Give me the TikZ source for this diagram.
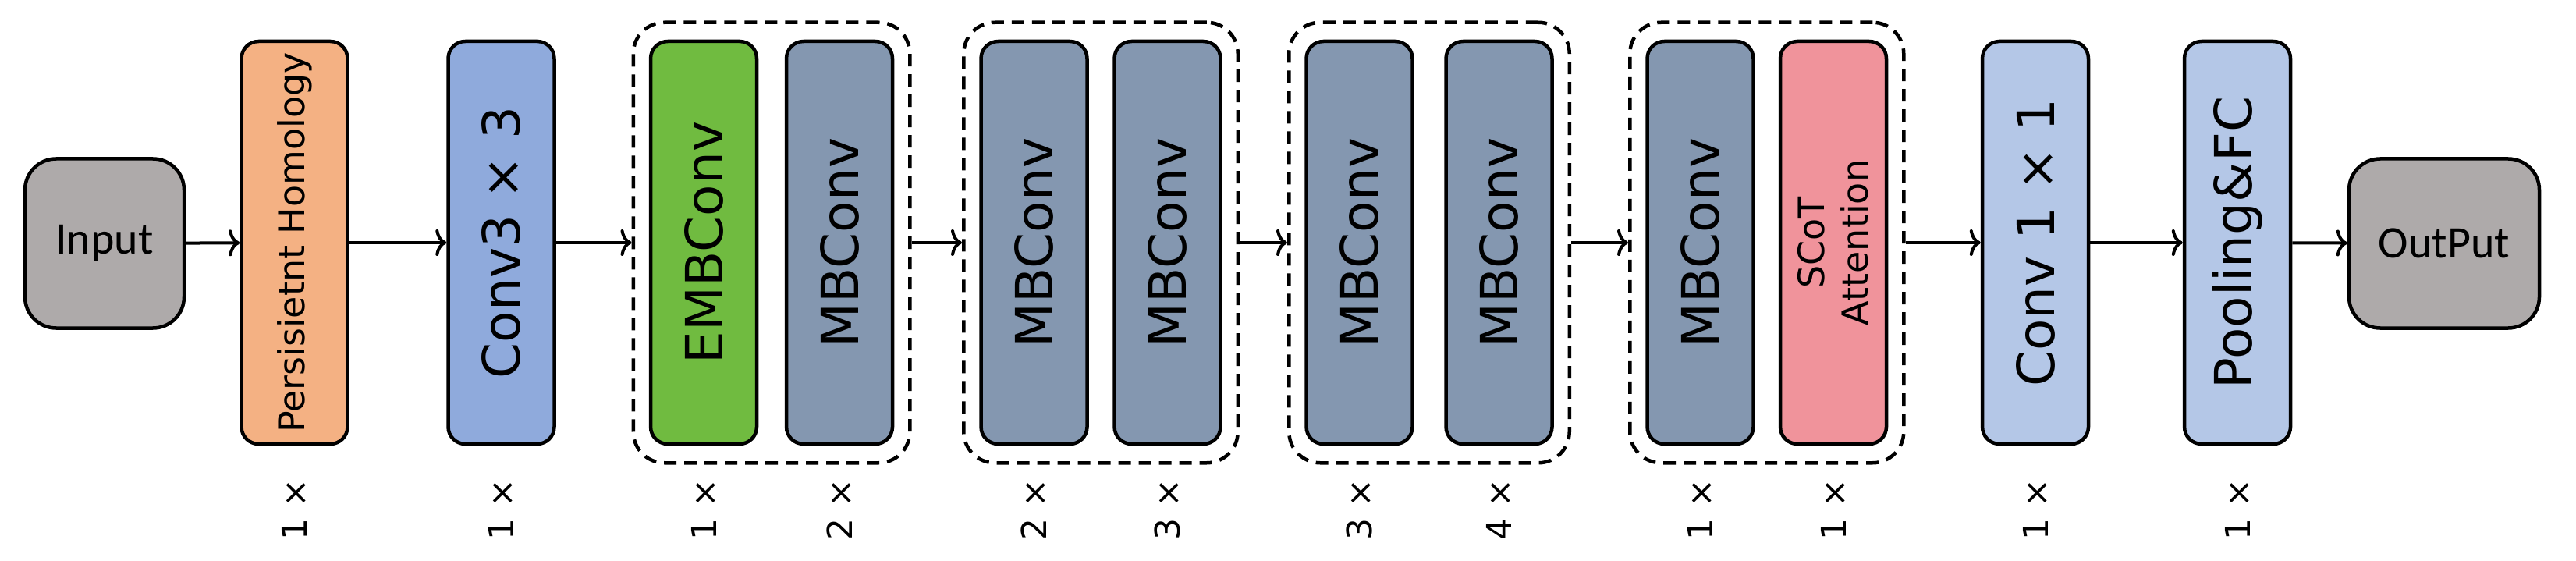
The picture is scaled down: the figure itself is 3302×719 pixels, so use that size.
\documentclass[tikz,border=0pt]{standalone}
\usepackage{fontspec}
\setmainfont{DejaVu Sans}
\newfontfamily\carl{Carlito}
\usetikzlibrary{arrows.meta,fit}
\definecolor{cOr}{HTML}{F4B183}
\definecolor{cBl}{HTML}{8FAADC}
\definecolor{cGr}{HTML}{70BB40}
\definecolor{cGb}{HTML}{8497B0}
\definecolor{cPk}{HTML}{F0939B}
\definecolor{cLb}{HTML}{B4C7E7}
\definecolor{cGy}{HTML}{AEAAAA}
\begin{document}
\begin{tikzpicture}[x=1pt,y=-1pt,
  blk/.style={draw,line width=4.5pt,rounded corners=22pt,rotate=90,minimum width=516pt,minimum height=136pt,inner sep=0pt,align=center},
  term/.style={draw,line width=4.5pt,rounded corners=40pt,fill=cGy,minimum height=217pt,inner sep=0pt,font=\carl\fontsize{58}{64}\selectfont},
  grp/.style={draw,line width=4.5pt,dash pattern=on 16pt off 10pt,rounded corners=40pt,inner xsep=20pt,inner ysep=22pt},
  cnt/.style={rotate=90,font=\fontsize{44}{50}\selectfont,inner sep=0pt},
  arr/.style={line width=4pt,-{To[length=14pt,width=34pt,line width=4pt]}},
  big/.style={font=\fontsize{66}{72}\selectfont},
  mid/.style={font=\fontsize{46}{54}\selectfont}]
\useasboundingbox (0,0) rectangle (3302,719);
\node[term,minimum width=204pt] (in) at (134,312) {Input};
\node[blk,fill=cOr,mid] (ph) at (377.5,311) {Persisietnt Homology};
\node[blk,fill=cBl,big] (c3) at (642.5,311) {Conv3 × 3};
\node[blk,fill=cGr,big] (e1) at (902,311) {EMBConv};
\node[blk,fill=cGb,big] (m1) at (1076,311) {MBConv};
\node[blk,fill=cGb,big] (m2) at (1325.5,311) {MBConv};
\node[blk,fill=cGb,big] (m3) at (1496.5,311) {MBConv};
\node[blk,fill=cGb,big] (m4) at (1742.5,311) {MBConv};
\node[blk,fill=cGb,big] (m5) at (1921.5,311) {MBConv};
\node[blk,fill=cGb,big] (m6) at (2179.5,311) {MBConv};
\node[blk,fill=cPk,font=\fontsize{46}{56}\selectfont] (sc) at (2350,311) {SCoT\\Attention};
\node[blk,fill=cLb,big] (c1) at (2609,311) {Conv 1 × 1};
\node[blk,fill=cLb,big] (pf) at (2868,311) {Pooling\&FC};
\node[term,minimum width=244pt] (out) at (3133,312) {OutPut};
\node[grp,fit=(e1)(m1)] (g1) {};
\node[grp,fit=(m2)(m3)] (g2) {};
\node[grp,fit=(m4)(m5)] (g3) {};
\node[grp,fit=(m6)(sc)] (g4) {};
\foreach \n/\x/\t in {l1/377.5/1,l2/642.5/1,l3/902/1,l4/1076/2,l5/1325.5/2,l6/1496.5/3,l7/1742.5/3,l8/1921.5/4,l9/2179.5/1,l10/2350/1,l11/2609/1,l12/2868/1}
  \node[cnt] (\n) at (\x,653) {\t\ ×};
\draw[arr] (in) -- (ph);
\draw[arr] (ph) -- (c3);
\draw[arr] (c3) -- (g1);
\draw[arr] (g1) -- (g2);
\draw[arr] (g2) -- (g3);
\draw[arr] (g3) -- (g4);
\draw[arr] (g4) -- (c1);
\draw[arr] (c1) -- (pf);
\draw[arr] (pf) -- (out);
\end{tikzpicture}
\end{document}
